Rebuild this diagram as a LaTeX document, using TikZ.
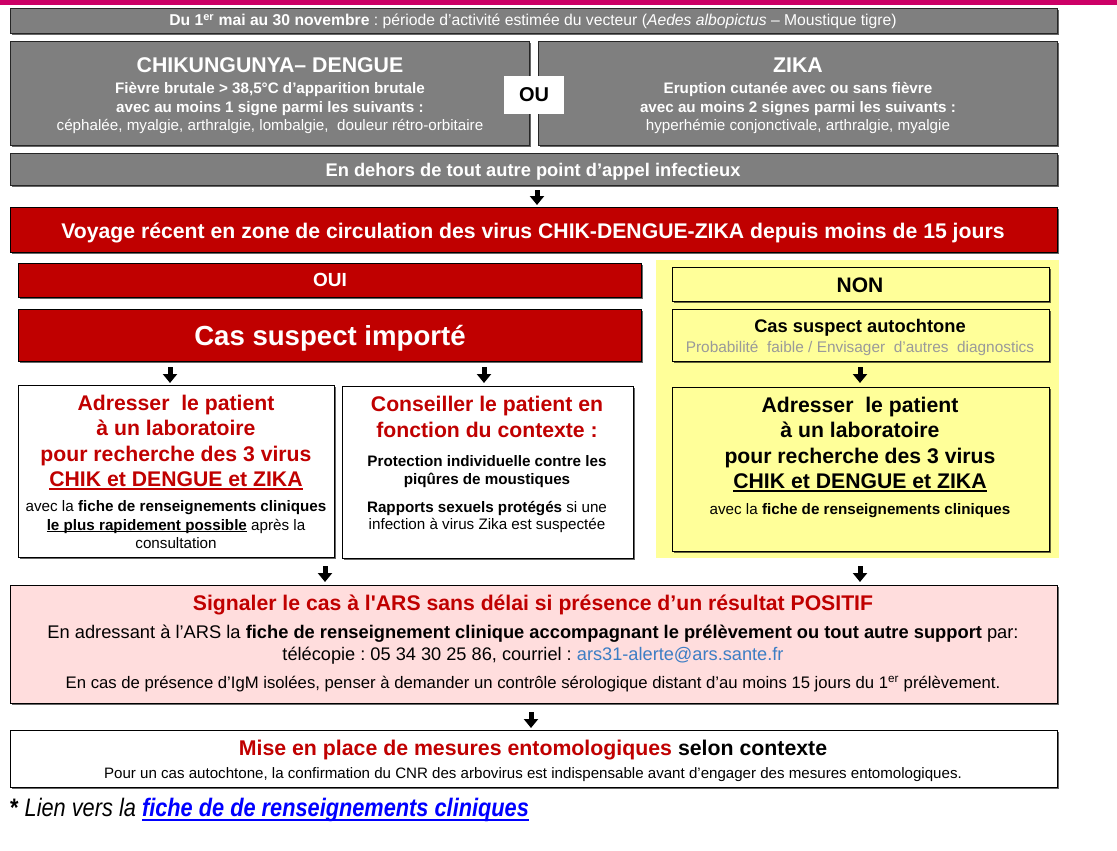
\documentclass[tikz,border=0pt]{standalone}
\usepackage{fontspec}
\setmainfont{Liberation Sans}[Ligatures=TeXOff]
\newfontfamily\nar[FakeStretch=0.86,Ligatures=TeXOff]{Liberation Sans}
\usetikzlibrary{arrows.meta,shadows}
\frenchspacing
\definecolor{grayfill}{HTML}{7F7F7F}
\definecolor{darkred}{HTML}{C00000}
\definecolor{yel}{HTML}{FFFF99}
\definecolor{pinkfill}{HTML}{FFDDDD}
\definecolor{topbar}{HTML}{CC0066}
\definecolor{mail}{HTML}{3C7DC4}
\definecolor{lnk}{HTML}{0000FF}
\definecolor{probgray}{HTML}{9A9A9A}
\newcommand\myul[3]{\setbox0\hbox{#3}\rlap{\copy0}\rule[-#2]{\wd0}{#1}}
\tikzset{
  shd/.style={drop shadow={shadow xshift=1.5pt,shadow yshift=-1.5pt,fill=black,opacity=0.6}},
  box/.style={draw=black, line width=1.1pt, anchor=north west, inner sep=0pt, shd},
  gbox/.style={box, fill=grayfill, draw=black!85},
  rbox/.style={box, fill=darkred},
  wbox/.style={box, fill=white},
  ybox/.style={box, fill=yel},
  pbox/.style={box, fill=pinkfill},
  t/.style={inner sep=0pt, anchor=base},
  wt/.style={t, text=white},
  blk/.style={line width=5pt, -{Triangle[width=14pt,length=9pt]}},
}
\newcommand\fs[2]{\fontsize{#1}{#2}\selectfont}
\begin{document}
\begin{tikzpicture}[x=1pt,y=-1pt]
\useasboundingbox (0,0) rectangle (1117,851);
\fill[topbar] (0,0) rectangle (1117,5);
% top bar
\node[gbox, minimum width=1047pt, minimum height=25pt] (top) at (10,8) {};
\node[wt, font=\fs{15.7}{18}] (topt) at (533,25.5) {\textbf{Du 1\textsuperscript{er} mai au 30 novembre} : période d’activité estimée du vecteur (\textit{Aedes albopictus} – Moustique tigre)};
% CHIK / ZIKA
\node[gbox, minimum width=519pt, minimum height=104pt] (chik) at (10,41) {};
\node[gbox, minimum width=519pt, minimum height=104pt] (zika) at (538,41) {};
\node[wt, font=\bfseries\fs{21.3}{24}] (chik1) at (270,73) {CHIKUNGUNYA– DENGUE};
\node[wt, font=\bfseries\fs{15.2}{18}] (chik2) at (270,93) {Fièvre brutale > 38,5°C d’apparition brutale};
\node[wt, font=\bfseries\fs{15.2}{18}] (chik3) at (270,112) {avec au moins 1 signe parmi les suivants :};
\node[wt, font=\fs{15.2}{18}] (chik4) at (270,130) {céphalée, myalgie, arthralgie, lombalgie, \ douleur rétro-orbitaire};
\node[wt, font=\bfseries\fs{21.3}{24}] (zika1) at (798,73) {ZIKA};
\node[wt, font=\bfseries\fs{15.2}{18}] (zika2) at (798,93) {Eruption cutanée avec ou sans fièvre};
\node[wt, font=\bfseries\fs{15.2}{18}] (zika3) at (798,112) {avec au moins 2 signes parmi les suivants :};
\node[wt, font=\fs{15.2}{18}] (zika4) at (798,130) {hyperhémie conjonctivale, arthralgie, myalgie};
\node[fill=white, minimum width=60pt, minimum height=37pt, inner sep=0pt, font=\bfseries\fs{20}{23}] (ou) at (534,95) {OU};
% En dehors
\node[gbox, minimum width=1047pt, minimum height=32pt] (dehors) at (10,153) {};
\node[wt, font=\bfseries\fs{18.3}{21}] (dehorst) at (533,176) {En dehors de tout autre point d’appel infectieux};
% Voyage
\node[rbox, minimum width=1047pt, minimum height=45pt] (voy) at (10,207) {};
\node[wt, font=\bfseries\fs{21.2}{24}] (voyt) at (533,238) {Voyage récent en zone de circulation des virus CHIK-DENGUE-ZIKA depuis moins de 15 jours};
% yellow background
\fill[yel] (656,260) rectangle (1059,558);
% OUI / NON
\node[rbox, minimum width=623pt, minimum height=34pt] (oui) at (18,263) {};
\node[wt, font=\bfseries\fs{19}{22}] (ouit) at (330,286.5) {OUI};
\node[ybox, minimum width=377pt, minimum height=34pt] (non) at (672,267) {};
\node[t, font=\bfseries\fs{21}{24}] (nont) at (860,292) {NON};
% Cas suspect
\node[rbox, minimum width=623pt, minimum height=52pt] (imp) at (18,309) {};
\node[wt, font=\bfseries\fs{27.6}{31}] (impt) at (330,345.5) {Cas suspect importé};
\node[ybox, minimum width=377pt, minimum height=52pt] (auto) at (672,309) {};
\node[t, font=\bfseries\fs{18.3}{21}] (auto1) at (860,332) {Cas suspect autochtone};
\node[t, font=\fs{15.4}{18}, text=probgray] (auto2) at (860,352.5) {Probabilité \ faible / Envisager \ d’autres \ diagnostics};
% left adresser
\node[wbox, minimum width=316pt, minimum height=172pt] (adrL) at (18,385) {};
\node[t, font=\bfseries\fs{21.2}{25}, text=darkred] (adrL1) at (176,410.5) {Adresser \ le patient};
\node[t, font=\bfseries\fs{21.2}{25}, text=darkred] (adrL2) at (176,435.5) {à un laboratoire};
\node[t, font=\bfseries\fs{21.2}{25}, text=darkred] (adrL3) at (176,461.5) {pour recherche des 3 virus};
\node[t, font=\bfseries\fs{21.2}{25}, text=darkred] (adrL4) at (176,486.5) {\myul{1.7pt}{3pt}{CHIK et DENGUE et ZIKA}};
\node[t, font=\fs{15.2}{18}] (adrL5) at (176,511) {avec la \textbf{fiche de renseignements cliniques}};
\node[t, font=\fs{15.2}{18}] (adrL6) at (176,530) {\myul{1.1pt}{2pt}{\textbf{le plus rapidement possible}} après la};
\node[t, font=\fs{15.2}{18}] (adrL7) at (176,548) {consultation};
% conseiller
\node[wbox, minimum width=291pt, minimum height=172pt] (cons) at (342,386) {};
\node[t, font=\bfseries\fs{21.2}{25}, text=darkred] (cons1) at (487,411.5) {Conseiller le patient en};
\node[t, font=\bfseries\fs{21.2}{25}, text=darkred] (cons2) at (487,437.5) {fonction du contexte :};
\node[t, font=\bfseries\fs{15.2}{18}] (cons3) at (487,466) {Protection individuelle contre les};
\node[t, font=\bfseries\fs{15.2}{18}] (cons4) at (487,484) {piqûres de moustiques};
\node[t, font=\fs{15.2}{18}] (cons5) at (487,512) {\textbf{Rapports sexuels protégés} si une};
\node[t, font=\fs{15.2}{18}] (cons6) at (487,529) {infection à virus Zika est suspectée};
% NON adresser
\node[ybox, minimum width=377pt, minimum height=164pt] (adrN) at (672,387) {};
\node[t, font=\bfseries\fs{21.2}{25}] (adrN1) at (860,412.5) {Adresser \ le patient};
\node[t, font=\bfseries\fs{21.2}{25}] (adrN2) at (860,437.5) {à un laboratoire};
\node[t, font=\bfseries\fs{21.2}{25}] (adrN3) at (860,463.5) {pour recherche des 3 virus};
\node[t, font=\bfseries\fs{21.2}{25}] (adrN4) at (860,488.5) {\myul{1.7pt}{3pt}{CHIK et DENGUE et ZIKA}};
\node[t, font=\fs{15.2}{18}] (adrN5) at (860,514) {avec la \textbf{fiche de renseignements cliniques}};
% pink
\node[pbox, minimum width=1047pt, minimum height=118pt] (pink) at (10,585) {};
\node[t, font=\bfseries\fs{21.2}{24}, text=darkred] (pink1) at (533,610) {Signaler le cas à l'ARS sans délai si présence d’un résultat POSITIF};
\node[t, font=\fs{18.3}{21}] (pink2) at (533,638) {En adressant à l’ARS la \textbf{fiche de renseignement clinique accompagnant le prélèvement ou tout autre support} par:};
\node[t, font=\fs{18.2}{21}] (pink3) at (533,660) {télécopie : 05 34 30 25 86, courriel : \textcolor{mail}{ars31-alerte@ars.sante.fr}};
\node[t, font=\fs{16.7}{19}] (pink4) at (533,688.5) {En cas de présence d’IgM isolées, penser à demander un contrôle sérologique distant d’au moins 15 jours du 1\textsuperscript{er} prélèvement.};
% last
\node[wbox, minimum width=1047pt, minimum height=57pt] (last) at (10,730) {};
\node[t, font=\bfseries\fs{21.3}{24}] (last1) at (533,755) {\textcolor{darkred}{Mise en place de mesures entomologiques} selon contexte};
\node[t, font=\fs{15.1}{18}] (last2) at (533,778) {Pour un cas autochtone, la confirmation du CNR des arbovirus est indispensable avant d’engager des mesures entomologiques.};
% footer
\node[inner sep=0pt, anchor=base west, font=\nar\fs{25.3}{28}] (foot) at (10,816.5) {\textbf{*} \textit{Lien vers la} \textcolor{lnk}{\myul{1.9pt}{4pt}{\textbf{\textit{fiche de de renseignements cliniques}}}}};
% arrows
\coordinate (x537) at (537,0);
\coordinate (x170) at (170,0);
\coordinate (x484) at (484,0);
\coordinate (x860) at (860,0);
\coordinate (x325) at (325,0);
\coordinate (x531) at (531,0);
\draw[blk, shorten <=4pt, shorten >=2pt] (dehors.south -| x537) -- (voy.north -| x537);
\draw[blk, shorten <=5pt, shorten >=2pt] (imp.south -| x170) -- (adrL.north -| x170);
\draw[blk, shorten <=5pt, shorten >=3pt] (imp.south -| x484) -- (cons.north -| x484);
\draw[blk, shorten <=5pt, shorten >=4pt] (auto.south -| x860) -- (adrN.north -| x860);
\draw[blk, shorten <=8pt, shorten >=3pt] (adrL.south -| x325) -- (pink.north -| x325);
\draw[blk, shorten <=14pt, shorten >=3pt] (adrN.south -| x860) -- (pink.north -| x860);
\draw[blk, shorten <=8pt, shorten >=2pt] (pink.south -| x531) -- (last.north -| x531);
\end{tikzpicture}
\end{document}
